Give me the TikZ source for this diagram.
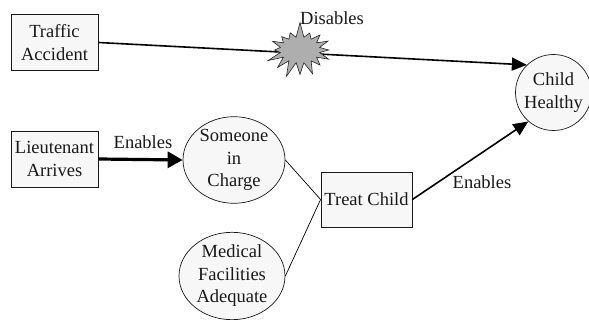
\documentclass[tikz,border=0pt]{standalone}
\usepackage{fontspec}
\setmainfont{Liberation Serif}
\usetikzlibrary{arrows.meta,shapes.geometric,shapes.symbols}
\definecolor{boxfill}{HTML}{F7F7F7}
\definecolor{starfill}{HTML}{AEAEAE}
\begin{document}
\begin{tikzpicture}[x=1pt,y=-1pt,
  every node/.style={font=\fontsize{18.5}{22.5}\selectfont, align=center, inner sep=0pt, text=black!90},
  box/.style={draw=black!90, fill=boxfill, line width=0.8pt, minimum width=#1, minimum height=56pt},
  oval/.style={draw=black!90, fill=boxfill, ellipse, line width=0.7pt},
  conn/.style={line width=1.6pt, -{Triangle[length=15pt,width=13pt]}},
  plain/.style={line width=0.7pt}
]
\useasboundingbox (0,0) rectangle (589,320);
\node[box=87pt] (traffic) at (54.5,42.5) {Traffic\\Accident};
\node[box=87pt] (lieut) at (54.5,159) {Lieutenant\\Arrives};
\node[oval, minimum width=102pt, minimum height=84pt] (someone) at (234,160) {Someone\\in\\Charge};
\node[oval, minimum width=106pt, minimum height=87pt] (medical) at (232,276) {Medical\\Facilities\\Adequate};
\node[box=91pt, minimum height=55pt] (treat) at (366.5,199.5) {Treat Child};
\node[draw=black!90, fill=boxfill, circle, line width=0.7pt, minimum size=76pt] (child) at (553.5,92.5) {Child\\Healthy};

\draw[conn] (traffic.east) -- (child.134);
\node[draw=black!85, fill=starfill, starburst, starburst points=16, starburst point height=16pt, random starburst=7, minimum width=72pt, minimum height=58pt, line width=0.6pt] (star) at (300,50) {};

\draw[line width=3.2pt, -{Triangle[length=15pt,width=16pt]}] (lieut.east) -- (someone.west);
\draw[plain] (someone.east) -- (treat.west);
\draw[plain] (medical.east) -- (treat.west);
\draw[conn] (treat.east) -- (child.229);

\node (dis) at (332,18) {Disables};
\node (en1) at (143,142) {Enables};
\node (en2) at (482,182) {Enables};
\end{tikzpicture}
\end{document}
